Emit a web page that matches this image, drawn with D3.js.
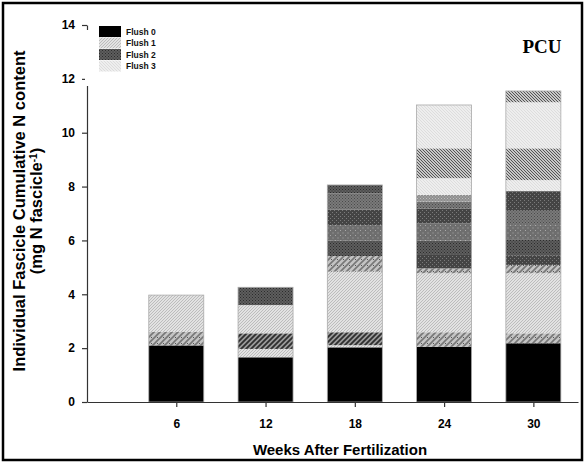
<!DOCTYPE html>
<html>
<head>
<meta charset="utf-8">
<script src="https://cdn.jsdelivr.net/npm/d3@7"></script>
<style>
  html, body { margin: 0; padding: 0; background: #fff; }
  svg text { font-family: "Liberation Sans", Arial, sans-serif; }
</style>
</head>
<body>
<div id="chart"></div>
<script>
// weeks after fertilization
const weeks = [6, 12, 18, 24, 30];

// each bar: [pattern, cumulative top] from bottom up
const seg6  = [["f0", 2.1], ["f1s", 2.6], ["f1", 3.97]];
const seg12 = [["f0", 1.66], ["f1", 1.97], ["f1d", 2.55], ["f1", 3.6], ["f2", 4.26]];
const seg18 = [["f0", 2.03], ["f1", 2.11], ["f1d", 2.59], ["f1", 4.84], ["f1s", 5.42], ["f2", 6.0],
               ["f2g", 6.57], ["f2c", 7.15], ["f2m", 7.75], ["f2", 8.06]];
const seg24 = [["f0", 2.05], ["f1s", 2.59], ["f1", 4.78], ["f1s", 4.96], ["f2c", 5.46], ["f2", 5.99],
               ["f2g", 6.63], ["f2c", 7.19], ["f2m", 7.44], ["f2l", 7.69], ["f3", 8.31], ["f3d", 9.42], ["f3", 11.03]];
const seg30 = [["f0", 2.18], ["f1s", 2.55], ["f1", 4.78], ["f1s", 5.09], ["f2c", 5.43], ["f2", 6.02],
               ["f2g", 6.57], ["f2m", 7.13], ["f2c", 7.83], ["f3", 8.24], ["f3d", 9.42], ["f3", 11.13], ["f3d", 11.55]];
const bars = [seg6, seg12, seg18, seg24, seg30];

const legendLabels = ["Flush 0", "Flush 1", "Flush 2", "Flush 3"];
const legendKeys = ["f0", "f1", "f2", "f3"];
const yTicks = [0, 2, 4, 6, 8, 10, 12, 14];

const W = 585, H = 463;
const svg = d3.select("#chart").append("svg").attr("width", W).attr("height", H);

// ---- fill patterns (grayscale hatches / dots) ----
const defs = svg.append("defs");
function hatch(id, bg, fg, size, dir, sw) {
  const p = defs.append("pattern").attr("id", id).attr("patternUnits", "userSpaceOnUse")
    .attr("width", size).attr("height", size);
  p.append("rect").attr("width", size).attr("height", size).attr("fill", bg);
  const d = dir > 0
    ? `M0,${size} L${size},0 M${-size / 2},${size / 2} L${size / 2},${-size / 2} M${size / 2},${size * 1.5} L${size * 1.5},${size / 2}`
    : `M0,0 L${size},${size} M${-size / 2},${size / 2} L${size / 2},${size * 1.5} M${size / 2},${-size / 2} L${size * 1.5},${size / 2}`;
  p.append("path").attr("d", d).attr("stroke", fg).attr("stroke-width", sw);
  return p;
}
function dots(id, bg, fg, size, r) {
  const p = defs.append("pattern").attr("id", id).attr("patternUnits", "userSpaceOnUse")
    .attr("width", size).attr("height", size);
  p.append("rect").attr("width", size).attr("height", size).attr("fill", bg);
  p.append("rect").attr("x", 0).attr("y", 0).attr("width", r).attr("height", r).attr("fill", fg);
  p.append("rect").attr("x", size / 2).attr("y", size / 2).attr("width", r).attr("height", r).attr("fill", fg);
  return p;
}
hatch("f1", "#e2e2e2", "#bcbcbc", 3, 1, 1);
hatch("f1s", "#c4c4c4", "#777", 6, 1, 1.6).append("rect").attr("x", 1).attr("y", 1).attr("width", 1).attr("height", 1).attr("fill", "#555");
hatch("f1d", "#9a9a9a", "#2e2e2e", 5, 1, 1.8);
dots("f2", "#5e5e5e", "#2c2c2c", 3, 1);
dots("f2g", "#6e6e6e", "#a8a8a8", 5, 1);
dots("f2c", "#444", "#7a7a7a", 4, 1);
dots("f2m", "#7a7a7a", "#4a4a4a", 3, 1);
dots("f2l", "#8e8e8e", "#c0c0c0", 3, 1);
hatch("f3", "#eeeeee", "#dddddd", 3, -1, 1);
hatch("f3d", "#c8c8c8", "#555", 3, -1, 1);
const fillOf = k => k === "f0" ? "#000" : `url(#${k})`;

// ---- scales ----
const x = d3.scaleLinear().domain([0, 33]).range([87, 578]);
const y = d3.scaleLinear().domain([0, 14]).range([402, 25]);
const barW = 55;

// outer frame
svg.append("rect").attr("x", 3).attr("y", 3).attr("width", W - 6).attr("height", H - 6)
  .attr("fill", "none").attr("stroke", "#000").attr("stroke-width", 2.5);

// bars
const g = svg.append("g");
bars.forEach((segs, i) => {
  let prev = 0;
  segs.forEach(([k, top]) => {
    g.append("rect")
      .attr("x", x(weeks[i]) - barW / 2)
      .attr("y", y(top))
      .attr("width", barW)
      .attr("height", y(prev) - y(top))
      .attr("fill", fillOf(k));
    prev = top;
  });
  // faint outline round the whole stack
  g.append("rect")
    .attr("x", x(weeks[i]) - barW / 2).attr("y", y(prev))
    .attr("width", barW).attr("height", y(0) - y(prev))
    .attr("fill", "none").attr("stroke", "#aaa").attr("stroke-width", 0.8);
});

// axes
const yAxis = d3.axisLeft(y).tickValues(yTicks).tickSize(5).tickSizeOuter(0).tickPadding(7);
const xAxis = d3.axisBottom(x).tickValues(weeks).tickSize(5).tickSizeOuter(0).tickPadding(12);
const ya = svg.append("g").attr("transform", "translate(87,0)").call(yAxis);
const xa = svg.append("g").attr("transform", "translate(0,402)").call(xAxis);
[ya, xa].forEach(a => {
  a.select(".domain").attr("stroke", "#333").attr("stroke-width", 1.2);
  a.selectAll(".tick line").attr("stroke", "#333").attr("stroke-width", 1.2);
  a.selectAll("text").attr("fill", "#000").style("font-size", "12px").style("font-weight", "bold")
    .style("font-family", "'Liberation Sans', Arial, sans-serif");
});

// legend (its white box hides part of the y axis)
svg.append("rect").attr("x", 85).attr("y", 30).attr("width", 5).attr("height", 56).attr("fill", "#fff");
const leg = svg.append("g").attr("transform", "translate(99,26)");
legendKeys.forEach((k, i) => {
  leg.append("rect").attr("x", 0).attr("y", i * 11.5).attr("width", 22).attr("height", 11)
    .attr("fill", fillOf(k));
  leg.append("text").attr("x", 27).attr("y", i * 11.5 + 8.5).text(legendLabels[i])
    .style("font-size", "8.5px").style("font-weight", "bold").attr("fill", "#111");
});

// PCU label
svg.append("text").attr("x", 542).attr("y", 53).attr("text-anchor", "middle")
  .style("font-family", "'Liberation Serif', 'Times New Roman', serif")
  .style("font-size", "19px").style("font-weight", "bold").text("PCU");

// axis titles
svg.append("text").attr("x", 340).attr("y", 455).attr("text-anchor", "middle")
  .style("font-size", "15px").style("font-weight", "bold").text("Weeks After Fertilization");

const yt = svg.append("text").attr("transform", "translate(25,211) rotate(-90)")
  .attr("text-anchor", "middle").style("font-size", "16.5px").style("font-weight", "bold");
yt.append("tspan").attr("x", 0).attr("dy", 0).text("Individual Fascicle Cumulative N content");
yt.append("tspan").attr("x", 0).attr("dy", 17).text("(mg N fascicle");
yt.append("tspan").attr("dy", -5).style("font-size", "10px").text("-1");
yt.append("tspan").attr("dy", 5).text(")");
</script>
</body>
</html>
